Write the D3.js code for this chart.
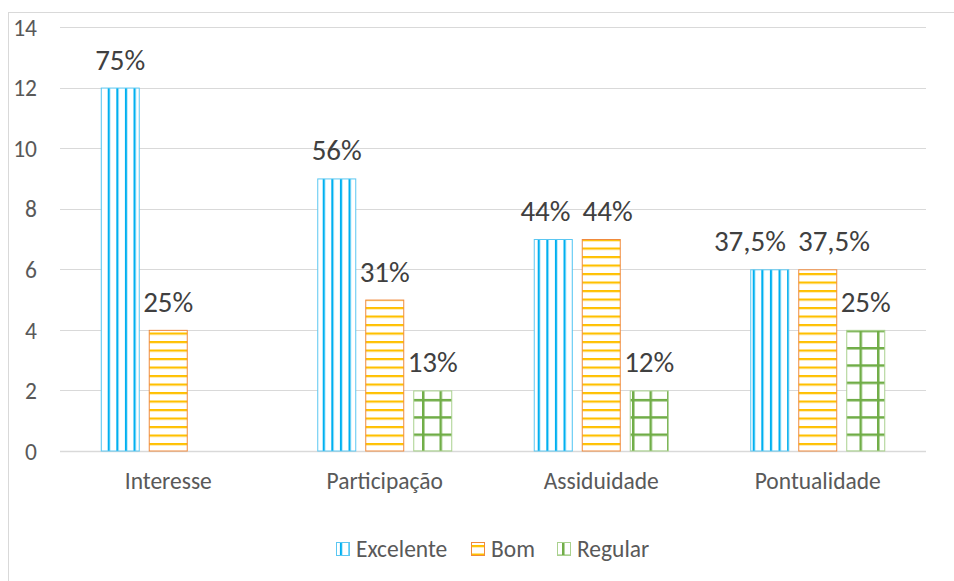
<!DOCTYPE html>
<html><head><meta charset="utf-8">
<script src="https://cdn.jsdelivr.net/npm/d3@7"></script>
<style>
html,body{margin:0;padding:0;background:#fff;}
svg{display:block;font-family:Carlito, Lato, "Open Sans", sans-serif;}
</style></head>
<body>
<svg id="chart" width="954" height="581"></svg>
<script>
const categories = ["Interesse", "Participação", "Assiduidade", "Pontualidade"];
const seriesNames = ["Excelente", "Bom", "Regular"];
const excelente = [12, 9, 7, 6];
const bom = [4, 5, 7, 6];
const regular = [0, 2, 2, 4];
const excelenteLabels = ["75%", "56%", "44%", "37,5%"];
const bomLabels = ["25%", "31%", "44%", "37,5%"];
const regularLabels = ["", "13%", "12%", "25%"];
const yTicks = [0, 2, 4, 6, 8, 10, 12, 14];

const seriesValues = [excelente, bom, regular];
const seriesLabels = [excelenteLabels, bomLabels, regularLabels];

const svg = d3.select("#chart");
const defs = svg.append("defs");

// patterns
const pE = defs.append("pattern").attr("id", "pat-Excelente").attr("patternUnits", "userSpaceOnUse")
  .attr("width", 8.6).attr("height", 10).attr("x", 4.5);
pE.append("rect").attr("width", 8.6).attr("height", 10).attr("fill", "#fff");
pE.append("rect").attr("x", 0).attr("width", 2.2).attr("height", 10).attr("fill", "#00B0F0");

const pB = defs.append("pattern").attr("id", "pat-Bom").attr("patternUnits", "userSpaceOnUse")
  .attr("width", 10).attr("height", 8.5).attr("y", 1);
pB.append("rect").attr("width", 10).attr("height", 8.5).attr("fill", "#fff");
pB.append("rect").attr("y", 0).attr("width", 10).attr("height", 2.2).attr("fill", "#FFC000");

const pR = defs.append("pattern").attr("id", "pat-Regular").attr("patternUnits", "userSpaceOnUse")
  .attr("width", 17.5).attr("height", 17.3).attr("x", 2).attr("y", 1);
pR.append("rect").attr("width", 17.5).attr("height", 17.3).attr("fill", "#fff");
pR.append("rect").attr("x", 0).attr("width", 2.5).attr("height", 17.3).attr("fill", "#70AD47");
pR.append("rect").attr("y", 0).attr("width", 17.5).attr("height", 2.5).attr("fill", "#70AD47");

const strokes = {"Excelente": "#5BC7F2", "Bom": "#F08A3C", "Regular": "#A9D18E"};

// chart frame
svg.append("rect").attr("x", 8.5).attr("y", 12.5).attr("width", 1000).attr("height", 700)
  .attr("fill", "none").attr("stroke", "#D9D9D9").attr("stroke-width", 1);

const plotLeft = 60, plotRight = 926;
const x0 = d3.scaleBand().domain(categories).range([plotLeft, plotRight]).paddingInner(0).paddingOuter(0);
const x1 = d3.scaleBand().domain(seriesNames).range([0, x0.bandwidth()]).paddingInner(0.1875).paddingOuter(0.849);
const y = d3.scaleLinear().domain([0, 14]).range([451, 27]);

const axisFont = 23.5;
const labelFont = 29;

// gridlines
svg.append("g").selectAll("line").data(yTicks).join("line")
  .attr("x1", plotLeft).attr("x2", plotRight)
  .attr("y1", d => Math.round(y(d)) + 0.5).attr("y2", d => Math.round(y(d)) + 0.5)
  .attr("stroke", "#D9D9D9").attr("stroke-width", d => d === 0 ? 1.5 : 1);

// y axis labels
const yAxis = d3.axisLeft(y).tickValues(yTicks).tickSize(0).tickPadding(0);
const gy = svg.append("g").attr("transform", "translate(37,0)").call(yAxis);
gy.select(".domain").remove();
gy.selectAll("text").attr("font-size", axisFont).attr("fill", "#595959")
  .attr("font-family", "Carlito, Lato, sans-serif").attr("dy", "0.35em");

// bars
const labelNodes = [];
seriesNames.forEach((s, si) => {
  const g = svg.append("g");
  categories.forEach((c, ci) => {
    const v = seriesValues[si][ci];
    if (v <= 0) return;
    const bx = x0(c) + x1(s);
    g.append("rect")
      .attr("x", bx + 0.5).attr("y", y(v) + 0.5)
      .attr("width", x1.bandwidth() - 1).attr("height", y(0) - y(v) - 0.5)
      .attr("fill", `url(#pat-${s})`).attr("stroke", strokes[s]).attr("stroke-width", 1);
    const t = g.append("text")
      .attr("x", bx + x1.bandwidth() / 2).attr("y", y(v) - 18)
      .attr("text-anchor", "middle").attr("font-size", labelFont).attr("fill", "#404040")
      .text(seriesLabels[si][ci]);
    labelNodes.push({node: t.node(), ci, si, cx: bx + x1.bandwidth() / 2, yy: y(v)});
  });
});

// resolve overlapping labels in the same group at the same height
categories.forEach((c, ci) => {
  const labs = labelNodes.filter(l => l.ci === ci).sort((a, b) => a.si - b.si);
  for (let i = 0; i < labs.length - 1; i++) {
    const a = labs[i], b = labs[i + 1];
    if (Math.abs(a.yy - b.yy) > 1) continue;
    const wa = a.node.getComputedTextLength(), wb = b.node.getComputedTextLength();
    const gap = 12;
    const need = (wa / 2 + wb / 2 + gap) - (b.cx - a.cx);
    if (need > 0) {
      a.cx -= need * 0.55; b.cx += need * 0.45;
      d3.select(a.node).attr("x", a.cx);
      d3.select(b.node).attr("x", b.cx);
    }
  }
});

// x axis labels
const xAxis = d3.axisBottom(x0).tickSize(0).tickPadding(0);
const gx = svg.append("g").attr("transform", "translate(0,489)").call(xAxis);
gx.select(".domain").remove();
gx.selectAll("text").attr("font-size", axisFont).attr("fill", "#595959")
  .attr("font-family", "Carlito, Lato, sans-serif").attr("dy", 0).attr("y", 0);

// legend
const legendItems = [
  {name: "Excelente", x: 336},
  {name: "Bom", x: 471},
  {name: "Regular", x: 557}
];
const lg = svg.append("g");
legendItems.forEach(it => {
  lg.append("rect").attr("x", it.x + 0.5).attr("y", 542.5).attr("width", 13).attr("height", 13)
    .attr("fill", `url(#pat-${it.name})`).attr("stroke", strokes[it.name]).attr("stroke-width", 1);
  lg.append("text").attr("x", it.x + 20).attr("y", 557).attr("font-size", axisFont).attr("fill", "#595959")
    .text(it.name);
});
</script>
</body></html>
